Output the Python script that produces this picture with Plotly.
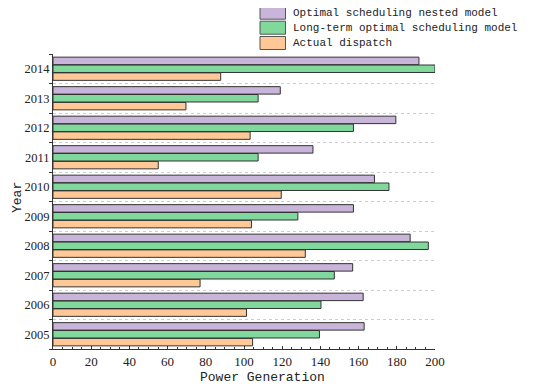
import plotly.graph_objects as go

years = ["2005", "2006", "2007", "2008", "2009", "2010", "2011", "2012", "2013", "2014"]
nested = [162.9, 162.4, 156.9, 187.0, 157.3, 168.3, 136.1, 179.5, 119.0, 191.6]
longterm = [139.5, 140.3, 147.3, 196.5, 128.2, 175.9, 107.4, 157.3, 107.4, 200.0]
actual = [104.5, 101.3, 77.0, 132.1, 103.9, 119.5, 55.1, 103.2, 69.6, 87.8]

series_names = ["Optimal scheduling nested model", "Long-term optimal scheduling model", "Actual dispatch"]
series_colors = ["#C9B4DA", "#80D89C", "#FFC896"]

ypos = list(range(len(years)))

# page body has an 8px margin, so the figure is sized/offset to compensate
OFF = 8
W, H = 550 - OFF, 388 - OFF
ML, MR, MT, MB = 53 - OFF, 115, 54 - OFF, 39
PW, PH = W - ML - MR, H - MT - MB

fig = go.Figure()
for name, vals, col in [(series_names[2], actual, series_colors[2]),
                        (series_names[1], longterm, series_colors[1]),
                        (series_names[0], nested, series_colors[0])]:
    fig.add_trace(go.Bar(
        y=ypos, x=vals, name=name, orientation="h",
        marker=dict(color=col, line=dict(color="#333333", width=1)),
        showlegend=False,
    ))

# window pixel -> paper coordinate helpers
def px_x(p):
    return (p - OFF - ML) / PW

def px_y(p):
    return (H - MB - (p - OFF)) / PH

shapes = []
annotations = []
row_centers = [12.7, 27.7, 43.0]
for name, col, cy in zip(series_names, series_colors, row_centers):
    shapes.append(dict(type="rect", xref="paper", yref="paper",
                       x0=px_x(260), x1=px_x(285.5), y0=px_y(cy + 6.5), y1=px_y(cy - 6.5),
                       fillcolor=col, line=dict(color="#555555", width=1)))
    annotations.append(dict(xref="paper", yref="paper", x=px_x(291), y=px_y(cy),
                            xanchor="left", yanchor="middle", showarrow=False, text=name,
                            font=dict(family="Liberation Mono", size=11, color="#222")))

annotations.append(dict(xref="paper", yref="paper", x=px_x(262), y=px_y(377),
                        xanchor="center", yanchor="middle", showarrow=False, text="Power Generation",
                        font=dict(family="Liberation Mono", size=13, color="#222")))
annotations.append(dict(xref="paper", yref="paper", x=px_x(17), y=px_y(198),
                        xanchor="center", yanchor="middle", showarrow=False, text="Year", textangle=-90,
                        font=dict(family="Liberation Mono", size=13, color="#222")))

fig.update_layout(
    width=W, height=H,
    margin=dict(l=ML, r=MR, t=MT, b=MB, autoexpand=False),
    paper_bgcolor="white", plot_bgcolor="white",
    barmode="group", bargap=0.2, bargroupgap=0.05,
    shapes=shapes, annotations=annotations,
    font=dict(family="Liberation Serif", color="#222"),
)

fig.update_xaxes(
    range=[0, 200], tickvals=list(range(0, 201, 20)),
    ticks="inside", ticklen=3, tickcolor="#333", automargin=False,
    showline=True, linecolor="#333", linewidth=1,
    showgrid=False, zeroline=False,
    minor=dict(tickvals=list(range(0, 201, 5)), ticks="inside", ticklen=2, tickcolor="#333"),
    tickfont=dict(family="Liberation Serif", size=13, color="#222"),
)

fig.update_yaxes(
    range=[-0.5, 9.5], tickvals=ypos, ticktext=years, automargin=False,
    ticks="", showline=True, linecolor="#333", linewidth=1,
    showgrid=False, zeroline=False,
    minor=dict(tickvals=[i - 0.5 for i in range(len(years) + 1)], ticks="outside", ticklen=3,
               tickcolor="#333", showgrid=True, gridcolor="#cccccc", griddash="dot", gridwidth=1),
    tickfont=dict(family="Liberation Serif", size=12.5, color="#222"),
)

fig.write_html("out.html")
